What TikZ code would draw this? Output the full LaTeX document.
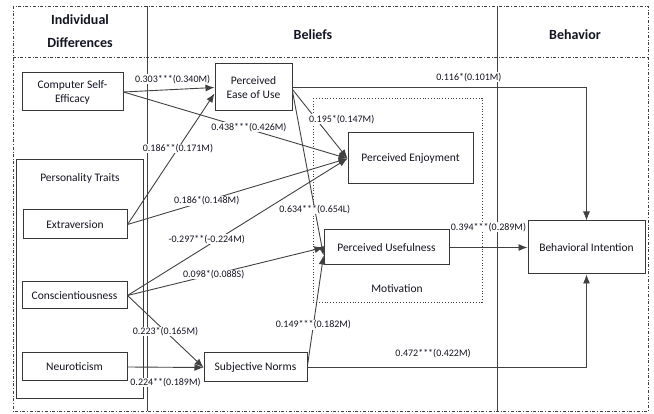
\documentclass[tikz,border=0pt]{standalone}
\usepackage{fontspec}
\setmainfont{Carlito}
\usetikzlibrary{arrows.meta}
\definecolor{linegray}{RGB}{65,65,65}
\definecolor{boxgray}{RGB}{55,55,55}
\definecolor{txt}{RGB}{20,20,35}

\begin{document}
\begin{tikzpicture}[x=1pt,y=-1pt,
  box/.style={draw=boxgray, line width=1pt, fill=white, align=center, text=txt,
    font=\fontsize{11.5}{14}\selectfont, inner sep=0pt},
  arr/.style={draw=linegray, line width=0.9pt, -{Latex[length=9pt,width=7pt]}},
  lbl/.style={font=\fontsize{10}{11}\selectfont, fill=white, inner sep=0.5pt, text=txt},
  head/.style={font=\fontsize{14}{23}\selectfont\bfseries, align=center, text=txt}]

\useasboundingbox (0,0) rectangle (654,414);

% columns
\draw[linegray, dash dot] (13,6) rectangle (648,411);
\draw[linegray, dash dot] (13,57) -- (648,57);
\draw[linegray] (147,6) -- (147,411);
\draw[linegray] (497,6) -- (497,411);

\node[head] (hind) at (80,31) {Individual\\Differences};
\node[head] (hbel) at (313,35) {Beliefs};
\node[head] (hbeh) at (575,35) {Behavior};

% groups
\draw[boxgray, line width=0.9pt] (16,159) rectangle (143,398);
\node[text=txt, font=\fontsize{11.5}{13}\selectfont] (ptr) at (80,178) {Personality Traits};
\draw[linegray, dotted, line width=0.8pt] (313,98) rectangle (482,302);
\node[text=txt, font=\fontsize{11.5}{13}\selectfont] (mot) at (397,289) {Motivation};

% constructs
\node[box, minimum width=101pt, minimum height=38pt] (cse) at (72.5,92) {Computer Self-\\Efficacy};
\node[box, minimum width=77pt, minimum height=47pt] (peou) at (253.5,87.5) {Perceived\\Ease of Use};
\node[box, minimum width=104pt, minimum height=29pt] (ext) at (75,224.5) {Extraversion};
\node[box, minimum width=105pt, minimum height=27pt] (con) at (74.5,295.5) {Conscientiousness};
\node[box, minimum width=105pt, minimum height=28pt] (neu) at (74.5,367) {Neuroticism};
\node[box, minimum width=103pt, minimum height=29pt] (sn) at (255.5,367.5) {Subjective Norms};
\node[box, minimum width=125pt, minimum height=51pt] (pe) at (410.5,158.5) {Perceived Enjoyment};
\node[box, minimum width=125pt, minimum height=35pt] (pu) at (386.5,247.5) {Perceived Usefulness};
\node[box, minimum width=117pt, minimum height=53pt] (bi) at (586.5,247.5) {Behavioral Intention};

% paths
\draw[arr] (cse.east) -- node[lbl, pos=0.54, above=5pt] {0.303***(0.340M)} (peou.west);
\draw[arr] (cse.east) -- node[lbl, pos=0.56, yshift=2pt] {0.438***(0.426M)} (pe.west);
\draw[arr] (ext.east) -- node[lbl, pos=0.58] {0.186**(0.171M)} ([yshift=-6pt]peou.west);
\draw[arr] (ext.east) -- node[lbl, pos=0.36] {0.186*(0.148M)} (pe.west);
\draw[arr] (con.east) -- node[lbl, pos=0.36, yshift=7pt] {-0.297**(-0.224M)} (pe.west);
\draw[arr] (con.east) -- node[lbl, pos=0.44] {0.098*(0.088S)} (pu.west);
\draw[arr] (con.east) -- node[lbl, pos=0.5] {0.223*(0.165M)} (sn.west);
\draw[arr] (neu.east) -- node[lbl, pos=0.5, below=10pt] {0.224**(0.189M)} (sn.west);
\draw[arr] ([yshift=-2pt]peou.east) -- node[lbl, pos=0.43, anchor=west, xshift=-8pt] {0.195*(0.147M)} (pe.west);
\draw[arr] ([yshift=-4pt]peou.east) -- node[lbl, pos=0.72] {0.634***(0.654L)} ([yshift=-8pt]pu.west);
\draw[arr] ([yshift=2pt]sn.east) -- node[lbl, pos=0.37] {0.149***(0.182M)} ([yshift=-8pt]pu.west);
\draw[arr] (peou.east) -| node[lbl, pos=0.3, above=5pt] {0.116*(0.101M)} (bi.north);
\draw[arr] (pu.east) -- node[lbl, pos=0.5, above=15pt] {0.394***(0.289M)} (bi.west);
\draw[arr] (sn.east) -| node[lbl, pos=0.225, above=9pt] {0.472***(0.422M)} (bi.south);

\end{tikzpicture}
\end{document}
